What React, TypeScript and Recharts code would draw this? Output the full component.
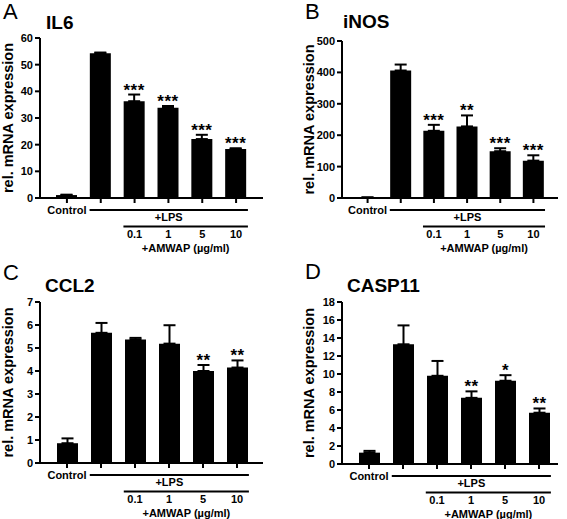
import React from 'react';
import { BarChart, Bar, XAxis, YAxis, ErrorBar, LabelList } from 'recharts';

const FONT = '"Liberation Sans", Arial, sans-serif';

// shared x categories
const categories = ['Control', 'LPS', '0.1', '1', '5', '10'];
const doseLabels = ['', '', '0.1', '1', '5', '10'];

// IL6
const il6Mean = [1.1, 54.3, 36.3, 33.8, 22.1, 18.4];
const il6Sem = [0.15, 0.25, 2.5, 0.7, 1.6, 0.25];
const il6Stars = ['', '', '***', '***', '***', '***'];
const il6Ticks = [0, 10, 20, 30, 40, 50, 60];

// iNOS
const inosMean = [1.5, 406, 214, 228, 149, 119];
const inosSem = [0.5, 19, 19, 35, 9.5, 17];
const inosStars = ['', '', '***', '**', '***', '***'];
const inosTicks = [0, 100, 200, 300, 400, 500];

// CCL2
const ccl2Mean = [0.86, 5.66, 5.37, 5.19, 4.0, 4.15];
const ccl2Sem = [0.21, 0.43, 0.07, 0.8, 0.26, 0.31];
const ccl2Stars = ['', '', '', '', '**', '**'];
const ccl2Ticks = [0, 1, 2, 3, 4, 5, 6, 7];

// CASP11
const casp11Mean = [1.26, 13.3, 9.8, 7.35, 9.25, 5.7];
const casp11Sem = [0.2, 2.1, 1.65, 0.72, 0.62, 0.47];
const casp11Stars = ['', '', '', '**', '*', '**'];
const casp11Ticks = [0, 2, 4, 6, 8, 10, 12, 14, 16, 18];

const boldText = { fontFamily: FONT, fontWeight: 700, fill: '#000' };

type Layout = {
  left: number; top: number; width: number; height: number;
  margin: { top: number; right: number; left: number; bottom: number };
  yWidth: number; padL: number; padR: number; labelOffset: number;
};

const renderTick = (props: any, band: number) => {
  const { x, y, index, payload } = props;
  const axisY = y - 7;
  const t = { ...boldText, fontSize: 11, textAnchor: 'middle' as const };
  const lpsStart = x - band * 0.33;
  const lpsEnd = x + band * 4.35;
  const amStart = x - band * 0.33;
  const amEnd = x + band * 3.35;
  return (
    <g>
      {index === 0 && <text x={x} y={axisY + 16} {...t}>{payload.value}</text>}
      {index === 1 && (
        <g>
          <line x1={lpsStart} x2={lpsEnd} y1={axisY + 12} y2={axisY + 12} stroke="#000" strokeWidth={2} />
          <text x={(lpsStart + lpsEnd) / 2} y={axisY + 22.5} {...t}>+LPS</text>
        </g>
      )}
      {index === 2 && (
        <g>
          <line x1={amStart} x2={amEnd} y1={axisY + 28.5} y2={axisY + 28.5} stroke="#000" strokeWidth={2} />
          <text x={(amStart + amEnd) / 2} y={axisY + 53.5} {...t}>+AMWAP (µg/ml)</text>
        </g>
      )}
      {index >= 2 && <text x={x} y={axisY + 39.5} {...t}>{doseLabels[index]}</text>}
    </g>
  );
};

const renderStars = (p: any, mean: number[], sem: number[], stars: string[]) => {
  const i = p.index;
  if (i == null || !stars[i]) return null;
  const vb = p.viewBox || p;
  const { x, y, width, height } = vb;
  const top = y - (sem[i] * height) / mean[i];
  return (
    <text x={x + width / 2} y={top + 1} textAnchor="middle" fontSize={17} fontFamily={FONT} fontWeight={700} fill="#000" letterSpacing={0.5}>
      {stars[i]}
    </text>
  );
};

interface PanelProps {
  layout: Layout;
  mean: number[];
  sem: number[];
  stars: string[];
  ticks: number[];
}

const Panel: React.FC<PanelProps> = ({ layout, mean, sem, stars, ticks }) => {
  const data = categories.map((name, i) => ({ name, value: mean[i], err: [0, sem[i]], stars: stars[i] }));
  const { width, margin, yWidth, padL, padR } = layout;
  const band = (width - margin.left - margin.right - yWidth - padL - padR) / 6;
  const axisStroke = { stroke: '#000', strokeWidth: 2 };
  return (
    <div style={{ position: 'absolute', left: layout.left, top: layout.top }}>
      <BarChart width={layout.width} height={layout.height} data={data} margin={margin} barSize={21}>
        <XAxis
          dataKey="name"
          interval={0}
          height={30}
          padding={{ left: padL, right: padR }}
          axisLine={axisStroke}
          tickLine={axisStroke}
          tickSize={5}
          tickMargin={2}
          tick={(props: any) => renderTick(props, band)}
        />
        <YAxis
          type="number"
          domain={[0, ticks[ticks.length - 1]]}
          ticks={ticks}
          interval={0}
          width={yWidth}
          axisLine={axisStroke}
          tickLine={axisStroke}
          tickSize={5}
          tickMargin={2}
          tick={{ ...boldText, fontSize: 11 }}
          label={{
            value: 'rel. mRNA expression',
            angle: -90,
            position: 'insideLeft',
            offset: layout.labelOffset,
            style: { ...boldText, fontSize: 14.5, textAnchor: 'middle' },
          }}
        />
        <Bar dataKey="value" fill="#000" isAnimationActive={false}>
          <ErrorBar dataKey="err" width={6} stroke="#000" strokeWidth={2} direction="y" />
          <LabelList dataKey="stars" content={(p: any) => renderStars(p, mean, sem, stars)} />
        </Bar>
      </BarChart>
    </div>
  );
};

const layoutA: Layout = { left: 0, top: 0, width: 283, height: 259, margin: { top: 38, right: 20, left: 0, bottom: 31 }, yWidth: 40, padL: 10, padR: 10, labelOffset: 7.5 };
const layoutB: Layout = { left: 280, top: 0, width: 287, height: 259, margin: { top: 41, right: 9, left: 0, bottom: 31 }, yWidth: 62, padL: 9, padR: 8, labelOffset: 29 };
const layoutC: Layout = { left: 0, top: 260, width: 283, height: 259, margin: { top: 42, right: 20, left: 0, bottom: 26 }, yWidth: 40, padL: 10, padR: 9, labelOffset: 7.5 };
const layoutD: Layout = { left: 280, top: 260, width: 287, height: 259, margin: { top: 42, right: 9, left: 0, bottom: 25 }, yWidth: 62, padL: 10, padR: 2, labelOffset: 29 };

export default function App() {
  const letter = { fontFamily: FONT, fontSize: 22, fill: '#000' };
  const title = { ...boldText, fontSize: 19 };
  return (
    <div style={{ position: 'absolute', left: 0, top: 0, width: 567, height: 519, background: '#fff', overflow: 'hidden' }}>
      <Panel layout={layoutA} mean={il6Mean} sem={il6Sem} stars={il6Stars} ticks={il6Ticks} />
      <Panel layout={layoutB} mean={inosMean} sem={inosSem} stars={inosStars} ticks={inosTicks} />
      <Panel layout={layoutC} mean={ccl2Mean} sem={ccl2Sem} stars={ccl2Stars} ticks={ccl2Ticks} />
      <Panel layout={layoutD} mean={casp11Mean} sem={casp11Sem} stars={casp11Stars} ticks={casp11Ticks} />
      <svg width={567} height={519} style={{ position: 'absolute', left: 0, top: 0, pointerEvents: 'none' }}>
        <text x={3} y={19} {...letter}>A</text>
        <text x={305} y={19} {...letter}>B</text>
        <text x={3} y={280} {...letter}>C</text>
        <text x={305} y={279} {...letter}>D</text>
        <text x={46} y={28.5} {...title}>IL6</text>
        <text x={343} y={28} {...title}>iNOS</text>
        <text x={45} y={292} {...title}>CCL2</text>
        <text x={347} y={292} {...title}>CASP11</text>
      </svg>
    </div>
  );
}
